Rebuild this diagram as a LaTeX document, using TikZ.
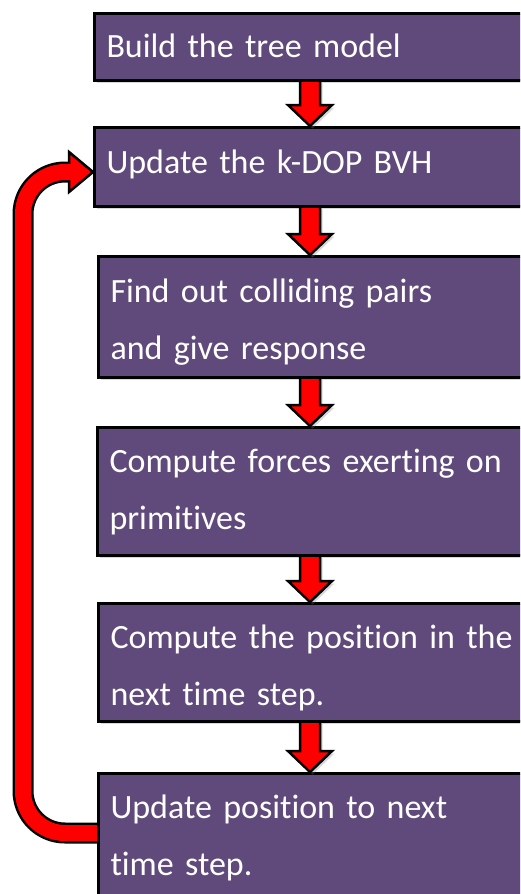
\documentclass[tikz,border=0pt]{standalone}
\usepackage{fontspec}
\setmainfont{Carlito}[Ligatures={NoCommon}]
\usetikzlibrary{calc,shadows}
\definecolor{boxpurple}{RGB}{96,74,123}
\definecolor{arrred}{RGB}{255,0,0}
\tikzset{
  stepbox/.style={draw=black, line width=3pt, fill=boxpurple, text=white,
    anchor=north west, align=left, text width=420pt, inner xsep=12pt, inner ysep=0pt,
    font=\fontsize{34}{57}\selectfont,
    drop shadow={opacity=0.3, shadow xshift=2.5pt, shadow yshift=-2.5pt}},
  blockarr/.style={fill=arrred, draw=black, line width=2.5pt, line join=miter,
    drop shadow={opacity=0.3, shadow xshift=2.5pt, shadow yshift=-2.5pt}},
  loopouter/.style={draw=black, line width=21pt, rounded corners=42pt},
  loopinner/.style={draw=arrred, line width=16pt, rounded corners=42pt},
  loophead/.style={fill=arrred, draw=black, line width=2.5pt, line join=miter},
}
\newcommand\flowdown[2]{%
  \draw[blockarr] let \p1=(#1), \p2=(#2) in
    (\x1-10pt,\y1+1.5pt) -- (\x1-10pt,\y2+21pt) -- (\x1-22pt,\y2+21pt) --
    (\x1,\y2) -- (\x1+22pt,\y2+21pt) -- (\x1+10pt,\y2+21pt) --
    (\x1+10pt,\y1+1.5pt) -- cycle;}
\begin{document}
\begin{tikzpicture}[x=1pt,y=-1pt]
\useasboundingbox (0,0) rectangle (520,894);
\fill[white] (0,0) rectangle (520,894);
\clip (0,0) rectangle (520,894);
\coordinate (ax) at (310,0);

\node[stepbox, text height=43.5pt, text depth=23.5pt] (b1) at (93,12) {Build the tree model};
\node[stepbox, text height=45.5pt, text depth=33.5pt] (b2) at (93,126) {Update the k-DOP BVH};
\node[stepbox, text height=45.5pt, text depth=75.5pt] (b3) at (97,255) {Find out colliding pairs\\and give response};
\node[stepbox, text height=44.5pt, text depth=83.5pt] (b4) at (96,426) {Compute forces exerting on\\primitives};
\node[stepbox, text height=44.5pt, text depth=73.5pt] (b5) at (97,602) {Compute the position in the\\next time step.};
\node[stepbox, text height=44.5pt, text depth=100pt] (b6) at (97,772) {Update position to next\\time step.};

\flowdown{b1.south -| ax}{b2.north -| ax}
\flowdown{b2.south -| ax}{b3.north -| ax}
\flowdown{b3.south -| ax}{b4.north -| ax}
\flowdown{b4.south -| ax}{b5.north -| ax}
\flowdown{b5.south -| ax}{b6.north -| ax}

% feedback loop
\coordinate (ls) at ($(b6.north west)+(0,61)$);
\coordinate (lt) at ($(b2.north west)+(0,46)$);
\coordinate (lb) at ($(lt)+(-24,0)$);
\draw[loopouter] (ls) -- (23,833) -- (23,172) -- ($(lb)+(3,0)$);
\draw[loophead] ($(lb)+(0,-20)$) -- (lt) -- ($(lb)+(0,20)$) -- cycle;
\draw[loopinner] (ls) -- (23,833) -- (23,172) -- ($(lb)+(3,0)$);
\end{tikzpicture}
\end{document}
